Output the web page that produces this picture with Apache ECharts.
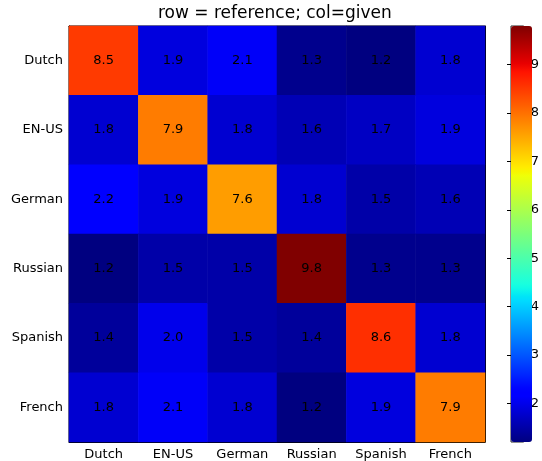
<!DOCTYPE html>
<html>
<head>
<meta charset="utf-8">
<script src="https://cdn.jsdelivr.net/npm/echarts@6/dist/echarts.min.js"></script>
<style>html,body{margin:0;padding:0;background:#fff;}#chart{width:542px;height:461px;}</style>
</head>
<body>
<div id="chart"></div>
<script>
var languages = ['Dutch', 'EN-US', 'German', 'Russian', 'Spanish', 'French'];
var rowDutch   = [8.5, 1.9, 2.1, 1.3, 1.2, 1.8];
var rowENUS    = [1.8, 7.9, 1.8, 1.6, 1.7, 1.9];
var rowGerman  = [2.2, 1.9, 7.6, 1.8, 1.5, 1.6];
var rowRussian = [1.2, 1.5, 1.5, 9.8, 1.3, 1.3];
var rowSpanish = [1.4, 2.0, 1.5, 1.4, 8.6, 1.8];
var rowFrench  = [1.8, 2.1, 1.8, 1.2, 1.9, 7.9];
var colorbarTicks = [2, 3, 4, 5, 6, 7, 8, 9];
var colorMin = 1.2, colorMax = 9.8;

var rows = [rowDutch, rowENUS, rowGerman, rowRussian, rowSpanish, rowFrench];
var data = [];
rows.forEach(function (r, i) {
  r.forEach(function (v, j) { data.push([j, i, v]); });
});

function seg(t, pts) {
  for (var k = 0; k < pts.length - 1; k++) {
    var a = pts[k], b = pts[k + 1];
    if (t >= a[0] && t <= b[0]) return a[1] + (b[1] - a[1]) * (t - a[0]) / (b[0] - a[0]);
  }
  return pts[pts.length - 1][1];
}
function jet(t) {
  var r = seg(t, [[0, 0], [0.35, 0], [0.66, 1], [0.89, 1], [1, 0.5]]);
  var g = seg(t, [[0, 0], [0.125, 0], [0.375, 1], [0.64, 1], [0.91, 0], [1, 0]]);
  var b = seg(t, [[0, 0.5], [0.11, 1], [0.34, 1], [0.65, 0], [1, 0]]);
  return 'rgb(' + Math.round(r * 255) + ',' + Math.round(g * 255) + ',' + Math.round(b * 255) + ')';
}
var jetColors = [];
for (var k = 0; k <= 100; k++) jetColors.push(jet(k / 100));

var font = 'DejaVu Sans';
var tickStyle = { show: true, inside: true, length: 4, alignWithLabel: true, lineStyle: { color: '#000' } };

var chart = echarts.init(document.getElementById('chart'));
chart.setOption({
  animation: false,
  backgroundColor: '#fff',
  textStyle: { fontFamily: font },
  title: {
    text: 'row = reference; col=given',
    left: 158, top: 2, padding: [3, 0, 3, 0],
    textStyle: { fontFamily: font, fontSize: 17, fontWeight: 'normal', color: '#000' }
  },
  grid: [
    { left: 69, top: 26, width: 416, height: 416, show: true, borderColor: '#000', borderWidth: 1, backgroundColor: 'transparent' },
    { left: 511, top: 26, width: 21, height: 416, show: true, borderColor: '#222', borderWidth: 1, backgroundColor: 'transparent' }
  ],
  xAxis: [
    { type: 'category', data: languages, gridIndex: 0, position: 'bottom',
      axisLine: { show: true, lineStyle: { color: '#000' } }, axisTick: tickStyle,
      axisLabel: { color: '#000', fontSize: 13, fontFamily: font, margin: 6 }, splitLine: { show: false } },
    { type: 'category', data: languages, gridIndex: 0, position: 'top',
      axisLine: { show: true, lineStyle: { color: '#000' } }, axisTick: tickStyle,
      axisLabel: { show: false }, splitLine: { show: false } },
    { type: 'value', gridIndex: 1, show: false, min: 0, max: 1 }
  ],
  yAxis: [
    { type: 'category', data: languages, inverse: true, gridIndex: 0, position: 'left',
      axisLine: { show: true, lineStyle: { color: '#000' } }, axisTick: tickStyle,
      axisLabel: { color: '#000', fontSize: 13, fontFamily: font, margin: 6 }, splitLine: { show: false } },
    { type: 'category', data: languages, inverse: true, gridIndex: 0, position: 'right',
      axisLine: { show: true, lineStyle: { color: '#000' } }, axisTick: tickStyle,
      axisLabel: { show: false }, splitLine: { show: false } },
    { type: 'value', gridIndex: 1, position: 'right', min: colorMin, max: colorMax,
      axisLine: { show: false },
      axisTick: { show: true, inside: true, length: 4, lineStyle: { color: '#000' }, customValues: colorbarTicks },
      axisLabel: { show: true, color: '#000', fontSize: 13, fontFamily: font, margin: 7, customValues: colorbarTicks },
      splitLine: { show: false } }
  ],
  visualMap: {
    type: 'continuous',
    min: colorMin, max: colorMax,
    seriesIndex: 0,
    calculable: false,
    left: 511, top: 26,
    itemWidth: 21, itemHeight: 416,
    padding: 0,
    inRange: { color: jetColors },
    textStyle: { color: 'transparent' }
  },
  series: [{
    type: 'heatmap',
    xAxisIndex: 0, yAxisIndex: 0,
    data: data,
    label: {
      show: true, color: '#000', fontSize: 13, fontFamily: font,
      formatter: function (p) { return p.value[2].toFixed(1); }
    },
    itemStyle: { borderWidth: 0 },
    emphasis: { disabled: true }
  }]
});
</script>
</body>
</html>
